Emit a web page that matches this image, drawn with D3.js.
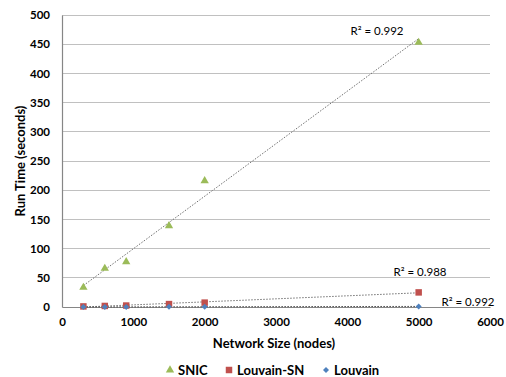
<!DOCTYPE html>
<html><head><meta charset="utf-8">
<script src="https://cdn.jsdelivr.net/npm/d3@7"></script>
<style>body{margin:0;background:#fff;} svg{display:block;}</style>
</head><body><svg id="c" width="506" height="377"></svg>
<script>
const sizes = [300, 600, 900, 1500, 2000, 5000];
const snic = [33.5, 66, 77.5, 139, 216, 453];
const louvainSN = [1, 1.8, 2.5, 5, 7.5, 25];
const louvain = [0.1, 0.15, 0.2, 0.3, 0.4, 1];
const seriesNames = ["SNIC", "Louvain-SN", "Louvain"];
const seriesColors = ["#9BBB59", "#C0504D", "#4F81BD"];
const r2Labels = ["R\u00B2 = 0.992", "R\u00B2 = 0.988", "R\u00B2 = 0.992"];
const xTicks = [0, 1000, 2000, 3000, 4000, 5000, 6000];
const yTicks = [0, 50, 100, 150, 200, 250, 300, 350, 400, 450, 500];

const svg = d3.select("#c");
const font = "Lato, 'Open Sans', sans-serif";
const x = d3.scaleLinear().domain([0, 6000]).range([62, 490]);
const y = d3.scaleLinear().domain([0, 500]).range([307, 15]);

// gridlines
svg.append("g").selectAll("line").data(yTicks.filter(d => d > 0)).join("line")
  .attr("x1", x(0)).attr("x2", x(6000)).attr("y1", d => y(d)).attr("y2", d => y(d))
  .attr("stroke", "#c0c0c0").attr("stroke-width", 1).attr("shape-rendering", "crispEdges");

// axes
const yAxis = d3.axisLeft(y).tickValues(yTicks).tickSize(0).tickPadding(12).tickFormat(d3.format("d"));
const gy = svg.append("g").attr("transform", `translate(${x(0)},0)`).call(yAxis);
const xAxis = d3.axisBottom(x).tickValues(xTicks).tickSize(0).tickPadding(11).tickFormat(d3.format("d"));
const gx = svg.append("g").attr("transform", `translate(0,${y(0)})`).call(xAxis);
[gx, gy].forEach(g => {
  g.select(".domain").attr("stroke", "#868686").attr("stroke-width", 1.2);
  g.selectAll("text").attr("font-family", font).attr("font-weight", "bold")
    .attr("font-size", 11.5).attr("fill", "#000");
});

// trendlines (least squares)
const all = [snic, louvainSN, louvain];
function fit(vals) {
  const mx = d3.mean(sizes), my = d3.mean(vals);
  let sxy = 0, sxx = 0;
  sizes.forEach((xv, i) => { sxy += (xv - mx) * (vals[i] - my); sxx += (xv - mx) ** 2; });
  const b = sxy / sxx, a = my - b * mx;
  return v => a + b * v;
}
all.forEach((vals, si) => {
  const f = fit(vals);
  const x0 = d3.min(sizes), x1 = d3.max(sizes);
  svg.append("line")
    .attr("x1", x(x0)).attr("y1", y(Math.max(0, f(x0))))
    .attr("x2", x(x1)).attr("y2", y(Math.max(0, f(x1))))
    .attr("stroke", si === 2 ? "#404040" : "#707070").attr("stroke-width", 1)
    .attr("stroke-dasharray", "1.5,1.5");
});

// markers
const sym = [d3.symbolTriangle, d3.symbolSquare, d3.symbolSquare];
const symSize = [30, 42, 18];
const symRot = [0, 0, 45];
all.forEach((vals, si) => {
  svg.append("g").selectAll("path").data(vals.map((v, i) => [sizes[i], v])).join("path")
    .attr("transform", d => `translate(${x(d[0])},${y(d[1])}) rotate(${symRot[si]})`)
    .attr("d", d3.symbol().type(sym[si]).size(symSize[si]))
    .attr("fill", seriesColors[si]);
});

// R2 labels
const r2Pos = [[377, 31], [420, 272], [468, 302]];
r2Labels.forEach((t, i) => {
  svg.append("text").attr("x", r2Pos[i][0]).attr("y", r2Pos[i][1]).attr("dy", "0.35em")
    .attr("text-anchor", "middle").attr("font-family", font).attr("font-size", 11.5)
    .attr("fill", "#000").text(t);
});

// axis titles
svg.append("text").attr("x", 274).attr("y", 343).attr("dy", "0.35em").attr("text-anchor", "middle")
  .attr("font-family", font).attr("font-weight", "bold").attr("font-size", 13).text("Network Size (nodes)");
svg.append("text").attr("transform", "translate(20,161) rotate(-90)").attr("dy", "0.35em")
  .attr("text-anchor", "middle").attr("font-family", font).attr("font-weight", "bold")
  .attr("font-size", 13).text("Run Time (seconds)");

// legend
const legX = [170, 229, 326];
seriesNames.forEach((n, i) => {
  svg.append("path").attr("transform", `translate(${legX[i]},370) rotate(${symRot[i]})`)
    .attr("d", d3.symbol().type(sym[i]).size(symSize[i])).attr("fill", seriesColors[i]);
  svg.append("text").attr("x", legX[i] + 8).attr("y", 370).attr("dy", "0.35em")
    .attr("font-family", font).attr("font-weight", "bold").attr("font-size", 13).text(n);
});
</script></body></html>
